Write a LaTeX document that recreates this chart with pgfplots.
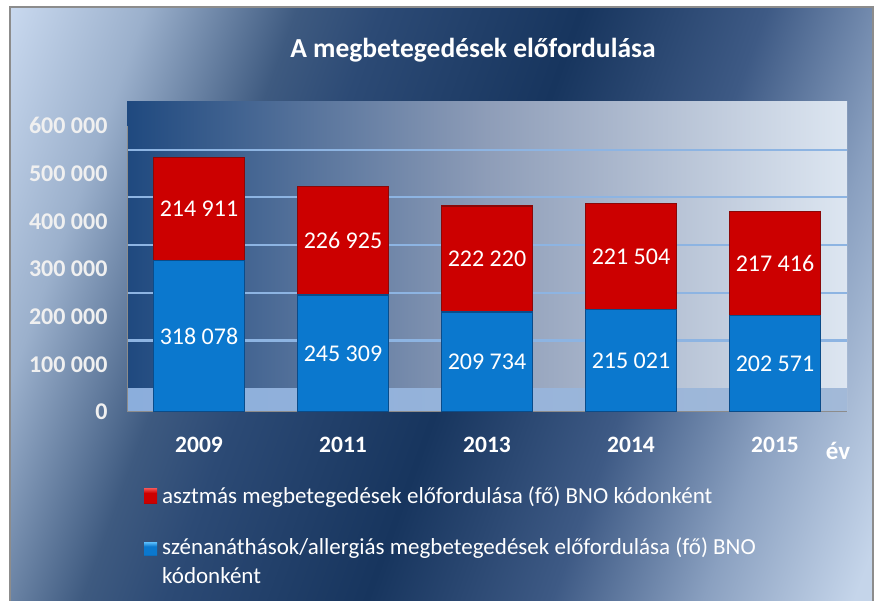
\documentclass[border=0pt]{standalone}
\usepackage{fontspec}
\setmainfont{Carlito}
\usepackage{pgfplots}
\usepackage{pgfplotstable}
\pgfplotsset{compat=1.18}

\definecolor{barred}{HTML}{CC0000}
\definecolor{barredline}{HTML}{8A0808}
\definecolor{barredlight}{HTML}{EE4444}
\definecolor{barblue}{HTML}{0B78CE}
\definecolor{barblueline}{HTML}{0A4C8A}
\definecolor{barbluelight}{HTML}{4AB0F4}
\definecolor{gridc}{HTML}{8DB4E2}
\definecolor{ticktext}{HTML}{F0F0F0}
\definecolor{axisgray}{HTML}{8C8C8C}
\definecolor{plotL}{HTML}{1F497F}
\definecolor{plotM}{HTML}{8E9DB8}
\definecolor{plotR}{HTML}{DDE6F1}
\definecolor{floorL}{HTML}{8BAEDC}
\definecolor{floorR}{HTML}{A2B9D8}
\definecolor{bgA}{HTML}{D0DEF2}
\definecolor{bgB}{HTML}{C8D8EE}
\definecolor{bgC}{HTML}{9BB0CC}
\definecolor{bgD}{HTML}{3E5A80}
\definecolor{bgE}{HTML}{2C4A75}
\definecolor{bgF}{HTML}{17355E}
\definecolor{bgG}{HTML}{3E5A85}
\definecolor{bgH}{HTML}{8AA0C0}
\definecolor{bgI}{HTML}{C5D5EA}

\pgfdeclarehorizontalshading{bgshade}{100bp}{color(0bp)=(bgA); color(18bp)=(bgB);
  color(26bp)=(bgC); color(35bp)=(bgD); color(40bp)=(bgE); color(52bp)=(bgF);
  color(63bp)=(bgG); color(72bp)=(bgH); color(81bp)=(bgI); color(100bp)=(bgA)}
\pgfdeclareverticalshading{redbevel}{100bp}{color(0bp)=(barredline); color(25bp)=(barredline);
  color(30bp)=(barred); color(62bp)=(barred); color(75bp)=(barredlight); color(100bp)=(barredlight)}
\pgfdeclareverticalshading{bluebevel}{100bp}{color(0bp)=(barblueline); color(25bp)=(barblueline);
  color(30bp)=(barblue); color(62bp)=(barblue); color(75bp)=(barbluelight); color(100bp)=(barbluelight)}

% ev, szenanatha/allergia (kek), asztma (piros)
\pgfplotstableread{
x blue red
0 318078 214911
1 245309 226925
2 209734 222220
3 215021 221504
4 202571 217416
}\adatok

\pgfplotsset{keret/.style={
  at={(127pt,189pt)}, anchor=south west,
  scale only axis, width=720pt, height=310pt,
  xmin=-0.5, xmax=4.5, ymin=0, ymax=650000}}

\begin{document}
\begin{tikzpicture}[x=1pt,y=1pt]
\useasboundingbox (0,0) rectangle (878,601);
\fill[white] (0,0) rectangle (878,601);
\shade[shading=bgshade, shading angle=-20] (10,0) rectangle (873,594);
\draw[axisgray, line width=1.5pt] (10,0) -- (10,594) -- (873,594) -- (873,0);

\node[text=white, font=\fontsize{27.5}{32}\selectfont\bfseries] at (473,551)
  {A megbetegedések előfordulása};

% hatter: fal es padlo
\begin{axis}[keret, hide axis,
  axis background/.style={left color=plotL, right color=plotR, middle color=plotM}]
\shade[left color=floorL, right color=floorR] (axis cs:-0.5,0) rectangle (axis cs:4.5,50000);
\end{axis}

\begin{axis}[keret,
  ybar stacked, bar width=91pt,
  axis line style={draw=none},
  xtick={0,...,4}, xticklabels={2009,2011,2013,2014,2015},
  ytick={0,100000,200000,300000,400000,500000,600000},
  yticklabels={0,100 000,200 000,300 000,400 000,500 000,600 000},
  extra y ticks={150000,250000,350000,450000,550000},
  extra y tick labels={},
  extra y tick style={grid=major, major grid style={gridc, line width=2.2pt}},
  tick style={draw=none},
  scaled y ticks=false,
  yticklabel style={font=\fontsize{24}{28}\selectfont\bfseries, text=ticktext, xshift=-16pt},
  xticklabel style={font=\fontsize{23.5}{28}\selectfont\bfseries, text=white, yshift=-22pt},
]
\addplot[fill=barblue, draw=barblueline, line width=1.2pt] table[x=x, y=blue] {\adatok};
\addplot[fill=barred, draw=barredline, line width=1.2pt] table[x=x, y=red] {\adatok};
\draw[axisgray, line width=2pt] (axis cs:-0.5,600000) -- (axis cs:-0.5,0) -- (axis cs:4.5,0);
\end{axis}

\begin{axis}[keret, hide axis,
  nodes near coords={\pgfmathprintnumber[fixed, precision=0, 1000 sep={\ }, assume math mode=true]{\pgfplotspointmeta}},
  nodes near coords style={anchor=center, text=white, font=\fontsize{24}{28}\selectfont},
]
\addplot[draw=none, mark=none, point meta=\thisrow{blue}]
  table[x=x, y expr=0.5*\thisrow{blue}] {\adatok};
\addplot[draw=none, mark=none, point meta=\thisrow{red}]
  table[x=x, y expr=\thisrow{blue}+0.5*\thisrow{red}] {\adatok};
\end{axis}

\node[text=white, font=\fontsize{25}{30}\selectfont\bfseries] at (838,150) {év};

% jelmagyarazat
\shade[shading=redbevel] (144,97) rectangle (157,112);
\shade[shading=bluebevel] (144,45) rectangle (157,58);
\node[anchor=west, inner sep=0pt, text=white, font=\fontsize{23}{27}\selectfont] at (162,104)
  {asztmás megbetegedések előfordulása (fő) BNO kódonként};
\node[anchor=west, inner sep=0pt, text=white, font=\fontsize{23}{27}\selectfont] at (162,53)
  {szénanáthások/allergiás megbetegedések előfordulása (fő) BNO};
\node[anchor=west, inner sep=0pt, text=white, font=\fontsize{23}{27}\selectfont] at (162,25)
  {kódonként};
\end{tikzpicture}
\end{document}
